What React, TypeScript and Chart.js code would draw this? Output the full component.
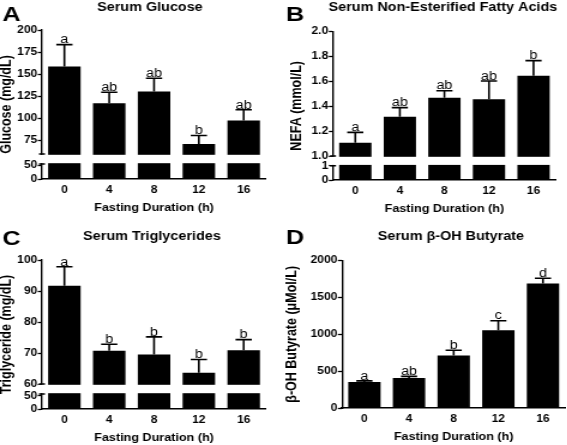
import React, { useEffect, useRef } from 'react';
import { Chart, registerables, LinearScale } from 'chart.js';

// ---------------- data ----------------
const categories = ['0', '4', '8', '12', '16'];

const glucoseMean = [158.7, 117.4, 130.5, 71.3, 97.7];
const glucoseSem = [24.8, 12.4, 15.1, 9.6, 12.2];
const glucoseLetters = ['a', 'ab', 'ab', 'b', 'ab'];
const glucoseTicksLow = [0, 50];
const glucoseTicksHigh = [75, 100, 125, 150, 175, 200];

const nefaMean = [1.107, 1.316, 1.469, 1.456, 1.646];
const nefaSem = [0.083, 0.073, 0.056, 0.147, 0.121];
const nefaLetters = ['a', 'ab', 'ab', 'ab', 'b'];
const nefaTicksLow = [0, 1];
const nefaTicksHigh = [1.0, 1.2, 1.4, 1.6, 1.8, 2.0];

const tgMean = [91.7, 70.7, 69.5, 63.6, 70.9];
const tgSem = [6.1, 2.1, 5.7, 4.3, 3.4];
const tgLetters = ['a', 'b', 'b', 'b', 'b'];
const tgTicksLow = [0, 50];
const tgTicksHigh = [60, 70, 80, 90, 100];

const bhbMean = [352, 408, 714, 1054, 1689];
const bhbSem = [16, 22, 70, 131, 73];
const bhbLetters = ['a', 'ab', 'b', 'c', 'd'];

const FONT = '"Liberation Sans", Arial, Helvetica, sans-serif';
const S = 1.2; // horizontal stretch of the figure

// -------------- broken axis scale --------------
class BrokenScale extends LinearScale {
  static id = 'broken';
  static defaults = {};

  buildTicks() {
    const o: any = this.options;
    const lo = (o.lowTicks || []).map((v: number) => ({ value: v, seg: 'lo', lbl: String(v) }));
    const hi = (o.highTicks || []).map((v: number) => ({
      value: v,
      seg: 'hi',
      lbl: v.toFixed(o.decimals || 0),
    }));
    return [...lo, ...hi] as any;
  }

  mapValue(v: number, seg?: string) {
    const o: any = this.options;
    const loMax = o.loMax, hiMin = o.hiMin, lowH = o.lowH, gap = o.gap;
    const bottom = (this as any).bottom, top = (this as any).top;
    const loTop = bottom - lowH;
    const hiBot = loTop - gap;
    const useLo = seg ? seg === 'lo' : v < hiMin && v <= loMax;
    const useHi = seg ? seg === 'hi' : v >= hiMin;
    if (useLo) return bottom - (v / loMax) * lowH;
    if (useHi) return hiBot - ((v - hiMin) / ((this as any).max - hiMin)) * (hiBot - top);
    return loTop - ((v - loMax) / (hiMin - loMax)) * gap;
  }

  getPixelForValue(value: any) {
    if (value === null || value === undefined || isNaN(value)) return NaN;
    return this.mapValue(+value);
  }

  getPixelForTick(index: number) {
    const t: any = (this as any).ticks[index];
    return t ? this.mapValue(t.value, t.seg) : NaN;
  }

  getValueForPixel(pixel: number) {
    const o: any = this.options;
    const bottom = (this as any).bottom, top = (this as any).top;
    const loTop = bottom - o.lowH;
    const hiBot = loTop - o.gap;
    if (pixel >= loTop) return ((bottom - pixel) / o.lowH) * o.loMax;
    if (pixel <= hiBot)
      return o.hiMin + ((hiBot - pixel) / (hiBot - top)) * ((this as any).max - o.hiMin);
    return o.loMax + ((loTop - pixel) / o.gap) * (o.hiMin - o.loMax);
  }
}

Chart.register(...registerables, BrokenScale as any);
Chart.defaults.font.family = FONT;
Chart.defaults.color = '#000';

// -------------- decorations: break marks, error bars, letters, titles --------------
const decorPlugin = {
  id: 'decor',
  afterDatasetsDraw(chart: any, _args: any, opts: any) {
    const ctx = chart.ctx;
    const ys = chart.scales.y;
    const area = chart.chartArea;
    ctx.save();
    if (opts.broken) {
      const o = ys.options;
      const loTop = ys.bottom - o.lowH;
      const hiBot = loTop - o.gap;
      ctx.fillStyle = '#fff';
      ctx.fillRect(area.left - 3, hiBot + 0.8, area.right - area.left + 5, loTop - hiBot - 1.6);
      ctx.strokeStyle = '#000';
      ctx.lineWidth = 1.4;
      ctx.beginPath();
      ctx.moveTo(area.left - 2.5, hiBot);
      ctx.lineTo(area.left + 2.5, hiBot);
      ctx.moveTo(area.left - 2.5, loTop);
      ctx.lineTo(area.left + 2.5, loTop);
      ctx.stroke();
    }
    const meta = chart.getDatasetMeta(0);
    const vals = chart.data.datasets[0].data;
    const err = opts.err || [];
    const letters = opts.letters || [];
    ctx.strokeStyle = '#000';
    ctx.fillStyle = '#000';
    ctx.lineWidth = 1.6;
    ctx.font = `12px ${FONT}`;
    ctx.textAlign = 'center';
    ctx.textBaseline = 'alphabetic';
    meta.data.forEach((bar: any, i: number) => {
      const v = vals[i];
      const e = err[i];
      const yTop = ys.getPixelForValue(v);
      const yCap = ys.getPixelForValue(v + e);
      const half = bar.width / 4;
      ctx.beginPath();
      ctx.moveTo(bar.x, yTop);
      ctx.lineTo(bar.x, yCap);
      ctx.moveTo(bar.x - half, yCap);
      ctx.lineTo(bar.x + half, yCap);
      ctx.stroke();
      ctx.fillText(letters[i], bar.x, yCap - 1.3);
    });
    ctx.restore();
  },
  afterDraw(chart: any, _args: any, opts: any) {
    const ctx = chart.ctx;
    ctx.save();
    ctx.fillStyle = '#000';
    ctx.textBaseline = 'middle';
    ctx.textAlign = 'left';
    ctx.font = `bold 21px ${FONT}`;
    ctx.fillText(opts.panel, opts.panelX, opts.panelY);
    ctx.textAlign = 'center';
    ctx.font = `bold 12px ${FONT}`;
    ctx.fillText(opts.title, opts.titleX, opts.titleY);
    ctx.restore();
  },
};

// -------------- panel layouts --------------
type Panel = {
  panel: string; title: string; yTitle: string;
  values: number[]; err: number[]; letters: string[];
  left: number; top: number; w: number; h: number;
  yWidth: number; padTop: number; padRight: number; yTitlePad: number;
  titleX: number; titleY: number; panelX: number; panelY: number;
  max: number;
  broken?: { loMax: number; hiMin: number; lowH: number; gap: number; low: number[]; high: number[]; decimals: number };
  linearTicks?: number[];
};

const panels: Panel[] = [
  {
    panel: 'A', title: 'Serum Glucose', yTitle: 'Glucose (mg/dL)',
    values: glucoseMean, err: glucoseSem, letters: glucoseLetters,
    left: 0, top: 0, w: 236, h: 215,
    yWidth: 35, padTop: 30, padRight: 14.1, yTitlePad: 0,
    titleX: 125, titleY: 8, panelX: 2, panelY: 15,
    max: 200,
    broken: { loMax: 55, hiMin: 60, lowH: 15, gap: 10, low: glucoseTicksLow, high: glucoseTicksHigh, decimals: 0 },
  },
  {
    panel: 'B', title: 'Serum Non-Esterified Fatty Acids', yTitle: 'NEFA (mmol/L)',
    values: nefaMean, err: nefaSem, letters: nefaLetters,
    left: 283, top: 0, w: 236, h: 216,
    yWidth: 41.7, padTop: 31.7, padRight: 8.5, yTitlePad: 6.1,
    titleX: 133.3, titleY: 8, panelX: 2.5, panelY: 15,
    max: 2.0,
    broken: { loMax: 1.02, hiMin: 1.0, lowH: 14.3, gap: 9.7, low: nefaTicksLow, high: nefaTicksHigh, decimals: 1 },
  },
  {
    panel: 'C', title: 'Serum Triglycerides', yTitle: 'Triglyceride (mg/dL)',
    values: tgMean, err: tgSem, letters: tgLetters,
    left: 0, top: 222, w: 236, h: 223,
    yWidth: 35, padTop: 38, padRight: 14.1, yTitlePad: 0,
    titleX: 126.7, titleY: 15, panelX: 2, panelY: 17,
    max: 100,
    broken: { loMax: 57, hiMin: 60, lowH: 15, gap: 10, low: tgTicksLow, high: tgTicksHigh, decimals: 0 },
  },
  {
    panel: 'D', title: 'Serum \u03B2-OH Butyrate', yTitle: '\u03B2-OH Butyrate (\u03BCMol/L)',
    values: bhbMean, err: bhbSem, letters: bhbLetters,
    left: 283, top: 222, w: 236, h: 222,
    yWidth: 49.25, padTop: 38.7, padRight: 0.6, yTitlePad: 2.3,
    titleX: 140, titleY: 15, panelX: 2.5, panelY: 16.5,
    max: 2000,
    linearTicks: [0, 500, 1000, 1500, 2000],
  },
];

function makeConfig(p: Panel): any {
  const yCommon: any = {
    min: 0,
    max: p.max,
    grid: { display: true, drawOnChartArea: false, drawTicks: true, tickLength: 3.5, tickColor: '#000', tickWidth: 1.3 },
    border: { display: true, color: '#000', width: 1.4 },
    ticks: {
      color: '#000',
      font: { size: 10, weight: 'bold' },
      padding: 0.5,
      autoSkip: false,
    },
    title: {
      display: true,
      text: p.yTitle,
      color: '#000',
      font: { size: 12.5, weight: 'bold', lineHeight: 0.9 },
      padding: { top: p.yTitlePad, bottom: 0 },
    },
    afterFit: (s: any) => { s.width = p.yWidth; },
  };
  let y: any;
  if (p.broken) {
    y = {
      ...yCommon,
      type: 'broken',
      loMax: p.broken.loMax, hiMin: p.broken.hiMin, lowH: p.broken.lowH, gap: p.broken.gap,
      lowTicks: p.broken.low, highTicks: p.broken.high, decimals: p.broken.decimals,
      ticks: { ...yCommon.ticks, callback: (_v: any, i: number, ticks: any[]) => ticks[i].lbl },
    };
  } else {
    y = {
      ...yCommon,
      type: 'linear',
      afterBuildTicks: (s: any) => { s.ticks = (p.linearTicks || []).map((v) => ({ value: v })); },
      ticks: { ...yCommon.ticks, callback: (v: any) => String(v) },
    };
  }
  return {
    type: 'bar',
    data: {
      labels: categories,
      datasets: [{
        data: p.values,
        backgroundColor: '#000',
        borderWidth: 0,
        barPercentage: 0.725,
        categoryPercentage: 1,
      }],
    },
    options: {
      animation: false,
      responsive: false,
      devicePixelRatio: 1,
      events: [],
      layout: { padding: { top: p.padTop, right: p.padRight, left: 0, bottom: 0 } },
      plugins: {
        legend: { display: false },
        tooltip: { enabled: false },
        decor: {
          broken: !!p.broken,
          err: p.err, letters: p.letters,
          panel: p.panel, panelX: p.panelX, panelY: p.panelY,
          title: p.title, titleX: p.titleX, titleY: p.titleY,
        },
      },
      scales: {
        x: {
          grid: { display: false, drawTicks: false },
          border: { display: true, color: '#000', width: 1.6 },
          ticks: { color: '#000', font: { size: 10, weight: 'bold' }, padding: 5.5, maxRotation: 0, autoSkip: false },
          title: {
            display: true,
            text: 'Fasting Duration (h)',
            color: '#000',
            font: { size: 10.5, weight: 'bold' },
            padding: { top: 0, bottom: 1 },
          },
          afterFit: (s: any) => { s.height = 36; },
        },
        y,
      },
    },
    plugins: [decorPlugin],
  };
}

export default function App() {
  const refs = useRef<(HTMLCanvasElement | null)[]>([]);
  useEffect(() => {
    const charts = panels.map((p, i) => new Chart(refs.current[i] as HTMLCanvasElement, makeConfig(p)));
    return () => charts.forEach((c) => c.destroy());
  }, []);
  return (
    <div style={{ position: 'absolute', left: 0, top: 0, width: 567, height: 445, overflow: 'hidden', background: '#fff' }}>
      {panels.map((p, i) => (
        <canvas
          key={p.panel}
          ref={(el) => { refs.current[i] = el; }}
          width={p.w}
          height={p.h}
          style={{ position: 'absolute', left: p.left, top: p.top, width: p.w * S, height: p.h, display: 'block' }}
        />
      ))}
    </div>
  );
}
